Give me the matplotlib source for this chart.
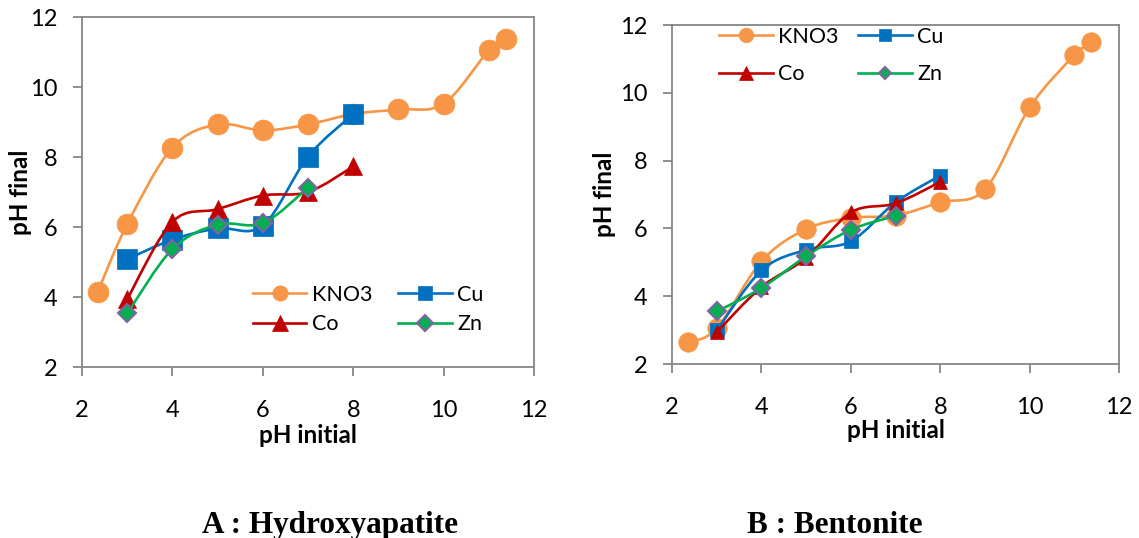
"""pH final vs pH initial for hydroxyapatite (A) and bentonite (B)."""
import matplotlib

matplotlib.use("Agg")
import matplotlib.pyplot as plt
import numpy as np
from matplotlib.lines import Line2D
from matplotlib.patches import PathPatch
from matplotlib.path import Path

# ---- data: panel A (hydroxyapatite) ----
hap_kno3_x = [2.35, 3, 4, 5, 6, 7, 8, 9, 10, 11, 11.37]
hap_kno3_y = [4.15, 6.08, 8.27, 8.93, 8.76, 8.93, 9.23, 9.36, 9.52, 11.05, 11.36]
hap_cu_x = [3, 4, 5, 6, 7, 8]
hap_cu_y = [5.08, 5.64, 5.96, 6.04, 8.01, 9.23]
hap_co_x = [3, 4, 5, 6, 7, 8]
hap_co_y = [3.94, 6.15, 6.51, 6.90, 7.00, 7.73]
hap_zn_x = [3, 4, 5, 6, 7]
hap_zn_y = [3.53, 5.37, 6.07, 6.11, 7.12]

# ---- data: panel B (bentonite) ----
ben_kno3_x = [2.35, 3, 4, 5, 6, 7, 8, 9, 10, 11, 11.37]
ben_kno3_y = [2.64, 3.05, 5.03, 5.98, 6.31, 6.38, 6.77, 7.15, 9.57, 11.11, 11.49]
ben_cu_x = [3, 4, 5, 6, 7, 8]
ben_cu_y = [2.99, 4.76, 5.37, 5.62, 6.77, 7.56]
ben_co_x = [3, 4, 5, 6, 7, 8]
ben_co_y = [2.94, 4.27, 5.13, 6.47, 6.74, 7.37]
ben_zn_x = [3, 4, 5, 6, 7]
ben_zn_y = [3.55, 4.24, 5.18, 5.96, 6.37]

TICKS = [2, 4, 6, 8, 10, 12]
GREY = "#868686"
TICK_FONT = "Lato"

# colour, marker, marker edge, plot marker size (A, B), legend marker size (A, B)
STYLES = {
    "KNO3": ("#F79646", "o", "#F79646", (15, 14), (11, 10.5)),
    "Cu": ("#0070C0", "s", "#0070C0", (14, 10.5), (10.5, 9)),
    "Co": ("#C00000", "^", "#C00000", (12.5, 10), (12, 9.5)),
    "Zn": ("#00B050", "D", "#8064A2", (9, 9.5), (8, 6.5)),
}


def smooth_path(x, y):
    # Excel-style smoothed line (Catmull-Rom as cubic Bezier)
    pts = np.column_stack([x, y]).astype(float)
    ext = np.vstack([pts[0], pts, pts[-1]])
    verts = [pts[0]]
    codes = [Path.MOVETO]
    for i in range(len(pts) - 1):
        p0, p1, p2, p3 = ext[i], ext[i + 1], ext[i + 2], ext[i + 3]
        verts += [p1 + (p2 - p0) / 6, p2 - (p3 - p1) / 6, p2]
        codes += [Path.CURVE4] * 3
    return Path(verts, codes)


def draw_panel(ax, series, idx, leg_pos, leg_spacing, col_spacing, ylab_x):
    handles = {}
    for z, (name, x, y) in enumerate(series):
        color, marker, edge, ms, lms = STYLES[name]
        ax.add_patch(PathPatch(smooth_path(x, y), facecolor="none", edgecolor=color,
                               lw=1.9, zorder=3 + z, clip_on=False))
        ax.plot(x, y, ls="none", marker=marker, ms=ms[idx], mfc=color, mec=edge,
                mew=1.5 if name == "Zn" else 0.5, zorder=3 + z, clip_on=False)
        handles[name] = Line2D([], [], color=color, lw=1.9, marker=marker, ms=lms[idx],
                               mfc=color, mec=edge, mew=1.5 if name == "Zn" else 0.5)

    ax.set_xlim(2, 12)
    ax.set_ylim(2, 12)
    ax.set_xticks(TICKS)
    ax.set_yticks(TICKS)
    for s in ax.spines.values():
        s.set_color(GREY)
        s.set_linewidth(1.3)
    ax.tick_params(axis="both", direction="out", length=6.5, width=1.3, color=GREY,
                   labelsize=17, top=False, right=False)
    ax.tick_params(axis="x", pad=17)
    ax.tick_params(axis="y", pad=11)
    for lab in ax.get_xticklabels() + ax.get_yticklabels():
        lab.set_fontfamily(TICK_FONT)

    ax.set_xlabel("pH initial", fontsize=17.5, fontweight="bold", fontfamily=TICK_FONT,
                  va="center")
    ax.xaxis.set_label_coords(0.5, -0.197)
    ax.set_ylabel("pH final", fontsize=17.5, fontweight="bold", fontfamily=TICK_FONT,
                  va="center")
    ax.yaxis.set_label_coords(ylab_x, 0.5)

    order = ["KNO3", "Co", "Cu", "Zn"]
    ax.legend([handles[k] for k in order], order, ncol=2, loc="center",
              bbox_to_anchor=leg_pos, frameon=False,
              prop={"family": TICK_FONT, "size": 15.5},
              handlelength=2.5, handletextpad=0.25, columnspacing=col_spacing,
              labelspacing=leg_spacing, borderpad=0.2)


fig = plt.figure(figsize=(11.39, 5.38), dpi=100)
ax_a = fig.add_axes([0.072, 0.3178, 0.3969, 0.6506])
ax_b = fig.add_axes([0.590, 0.3234, 0.3925, 0.6301])

draw_panel(ax_a, [("KNO3", hap_kno3_x, hap_kno3_y), ("Cu", hap_cu_x, hap_cu_y),
                  ("Co", hap_co_x, hap_co_y), ("Zn", hap_zn_x, hap_zn_y)],
           0, (0.633, 0.164), 0.45, 1.2, -0.137)
draw_panel(ax_b, [("KNO3", ben_kno3_x, ben_kno3_y), ("Cu", ben_cu_x, ben_cu_y),
                  ("Co", ben_co_x, ben_co_y), ("Zn", ben_zn_x, ben_zn_y)],
           1, (0.356, 0.910), 0.82, 0.9, -0.150)

cap = dict(ha="center", va="baseline", fontsize=22.5, fontweight="bold",
           fontfamily="Liberation Serif")
fig.text(0.290, 0.009, "A : Hydroxyapatite", **cap)
fig.text(0.733, 0.009, "B : Bentonite", **cap)

fig.savefig("out.png", dpi=100)
plt.close(fig)
